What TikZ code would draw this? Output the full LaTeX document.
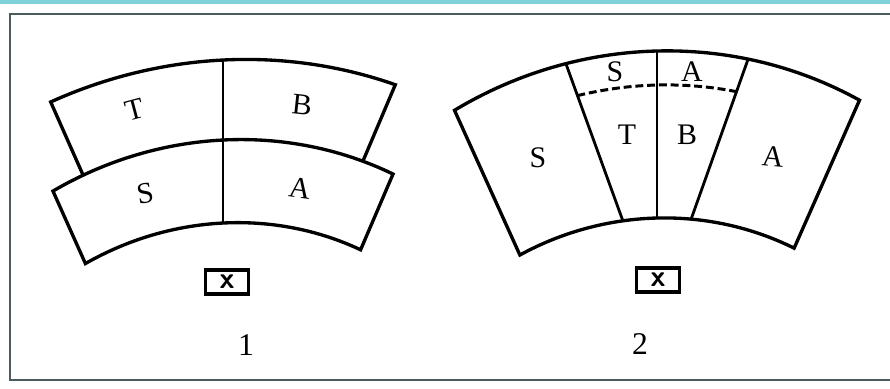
\documentclass[tikz,border=0pt]{standalone}
\usepackage{fontspec}
\setmainfont{Liberation Serif}
\usepackage{tikz}

\definecolor{framegray}{RGB}{76,92,94}
\definecolor{stripcyan}{RGB}{128,208,218}

\begin{document}
\begin{tikzpicture}[
    x=0.02cm, y=0.02cm,
    edge/.style={line width=1.9pt, line join=miter},
    divider/.style={line width=1.6pt},
    seam/.style={line width=1.7pt, dash pattern=on 4.5pt off 2.2pt},
    part/.style={font=\fontsize{17}{20}\selectfont, inner sep=0pt},
    seat/.style={draw, line width=1.8pt, minimum width=0.86cm, minimum height=0.48cm, inner sep=0pt, font=\fontsize{17}{17}\selectfont\bfseries\sffamily},
    num/.style={font=\fontsize{18}{20}\selectfont, inner sep=0pt}
]
\clip (0,0) rectangle (890,389);
\fill[stripcyan] (0,385) rectangle (890,389);
\draw[line width=0.9pt, framegray] (10,375) rectangle (905,9);

% layout 1: two bands
\begin{scope}[shift={(223,0)}, yslant=0.05]
  \draw[edge] ({298*cos(117.5)},{-132+298*sin(117.5)}) arc[start angle=117.5, end angle=62.5, radius=298]
    -- ({361*cos(61.9)},{-112+361*sin(61.9)}) arc[start angle=61.9, end angle=118.1, radius=361] -- cycle;
  \draw[edge] ({361*cos(112.8)},{-112+361*sin(112.8)})
    -- ({462*cos(111.9)},{-133+462*sin(111.9)}) arc[start angle=111.9, end angle=68.1, radius=462]
    -- ({361*cos(67.2)},{-112+361*sin(67.2)});
  \draw[divider] (0,329) -- (0,166);
\end{scope}

\node[part, rotate=15] (t1) at (135,279) {T};
\node[part, rotate=-6] (b1) at (302,284) {B};
\node[part, rotate=10] (s1) at (145,196) {S};
\node[part, rotate=-8] (a1) at (300,201) {A};
\node[seat] (box1) at (227,107) {x};
\node[num] (n1) at (246,44) {1};

% layout 2: one band
\begin{scope}[shift={(657,0)}, yslant=0.025]
  \draw[edge] ({297*cos(117.5)},{-126+297*sin(117.5)}) arc[start angle=117.5, end angle=62.5, radius=297]
    -- ({405*cos(60)},{-67+405*sin(60)}) arc[start angle=60, end angle=120, radius=405] -- cycle;
  \draw[divider] (0,338) -- (0,171);
  \draw[divider] ({405*cos(103)},{-67+405*sin(103)}) -- ({297*cos(96.6)},{-126+297*sin(96.6)});
  \draw[divider] ({405*cos(77)},{-67+405*sin(77)}) -- ({297*cos(83.4)},{-126+297*sin(83.4)});
  \draw[seam] ({371*cos(102.4)},{-67+371*sin(102.4)}) arc[start angle=102.4, end angle=77.6, radius=371];
\end{scope}

\node[part] (s2) at (538,231) {S};
\node[part] (s3) at (615,317) {S};
\node[part] (a3) at (692,317) {A};
\node[part] (t2) at (627,254) {T};
\node[part] (b2) at (687,254) {B};
\node[part, rotate=-5] (a2) at (773,232) {A};
\node[seat] (box2) at (658,109) {x};
\node[num] (n2) at (640,45) {2};
\end{tikzpicture}
\end{document}
